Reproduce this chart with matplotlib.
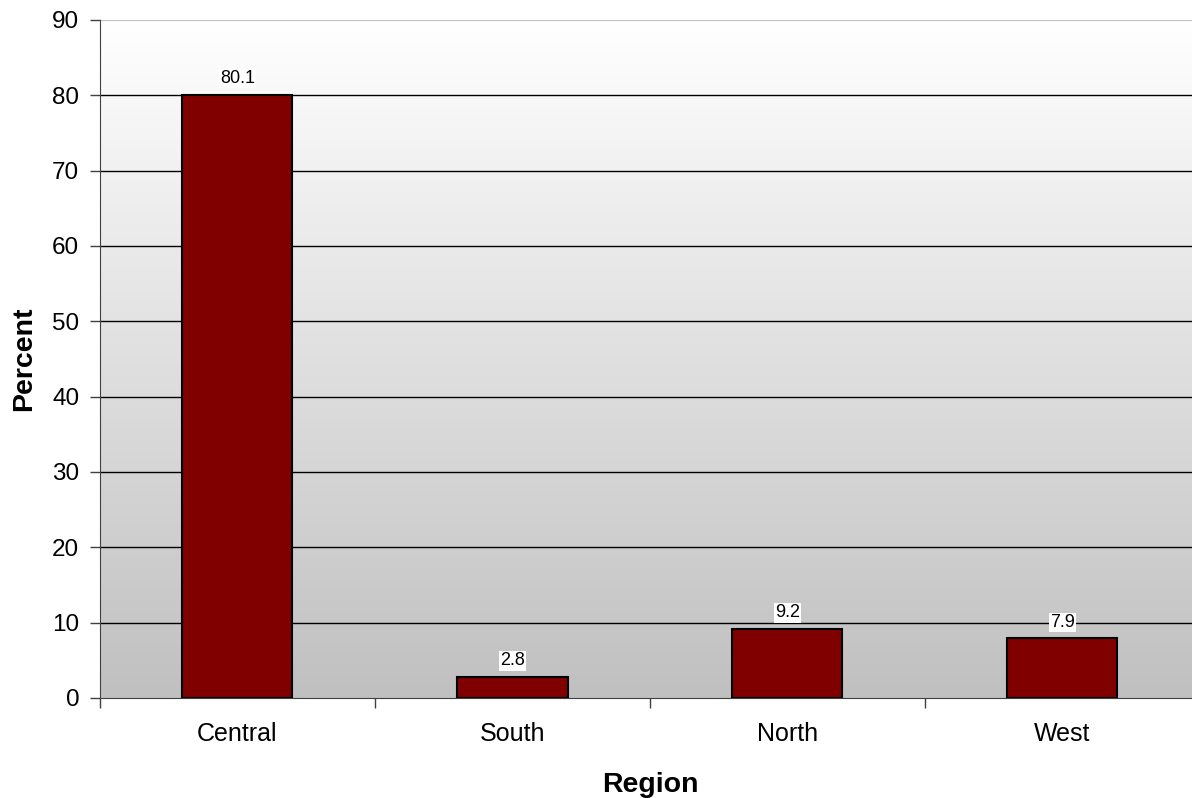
import numpy as np
import matplotlib.pyplot as plt

regions = ["Central", "South", "North", "West"]
percent = [80.1, 2.8, 9.2, 7.9]

plt.rcParams['font.family'] = ['Liberation Sans', 'DejaVu Sans']

fig = plt.figure(figsize=(11.92, 7.98), dpi=100)
ax = fig.add_axes([100 / 1192, 1 - 698 / 798, 1100 / 1192, 678 / 798])

# plot area gradient white -> grey
grad = np.linspace(1.0, 0.0, 256).reshape(-1, 1)
ax.imshow(grad, aspect='auto', cmap=plt.matplotlib.colors.LinearSegmentedColormap.from_list(
    'g', ['#c0c0c0', '#ffffff']), extent=[-0.5, 3.5, 0, 90], zorder=0)

x = np.arange(len(regions))
bars = ax.bar(x, percent, width=0.4, color='#800000', edgecolor='black', linewidth=1.5, zorder=3)

for i, v in enumerate(percent):
    ax.text(i, v + 1.0, f"{v}", ha='center', va='bottom', fontsize=13,
            bbox=dict(facecolor='white', edgecolor='none', pad=1), zorder=4)

ax.set_xlim(-0.5, 3.5)
ax.set_ylim(0, 90)
ax.set_yticks(range(0, 91, 10))
for yv in range(10, 90, 10):
    ax.axhline(yv, color='black', linewidth=1, zorder=1)
ax.axhline(90, color='#c0c0c0', linewidth=1.5, zorder=1)

ax.set_xticks(x)
ax.set_xticklabels(regions)
ax.set_xticks(np.arange(-0.5, 4.0, 1), minor=True)
ax.tick_params(axis='x', which='major', length=0, labelsize=18, pad=17)
ax.tick_params(axis='x', which='minor', length=7, width=1, color='#404040', direction='out')
ax.tick_params(axis='y', length=7, width=1, color='#404040', labelsize=17.5, pad=8)

for s in ['top', 'right']:
    ax.spines[s].set_visible(False)
ax.spines['left'].set_color('#404040')
ax.spines['bottom'].set_color('#404040')

ax.set_xlabel('Region', fontsize=20.5, fontweight='bold', labelpad=19)
ax.set_ylabel('Percent', fontsize=20.5, fontweight='bold', labelpad=11)

fig.savefig('out.png', dpi=100)
